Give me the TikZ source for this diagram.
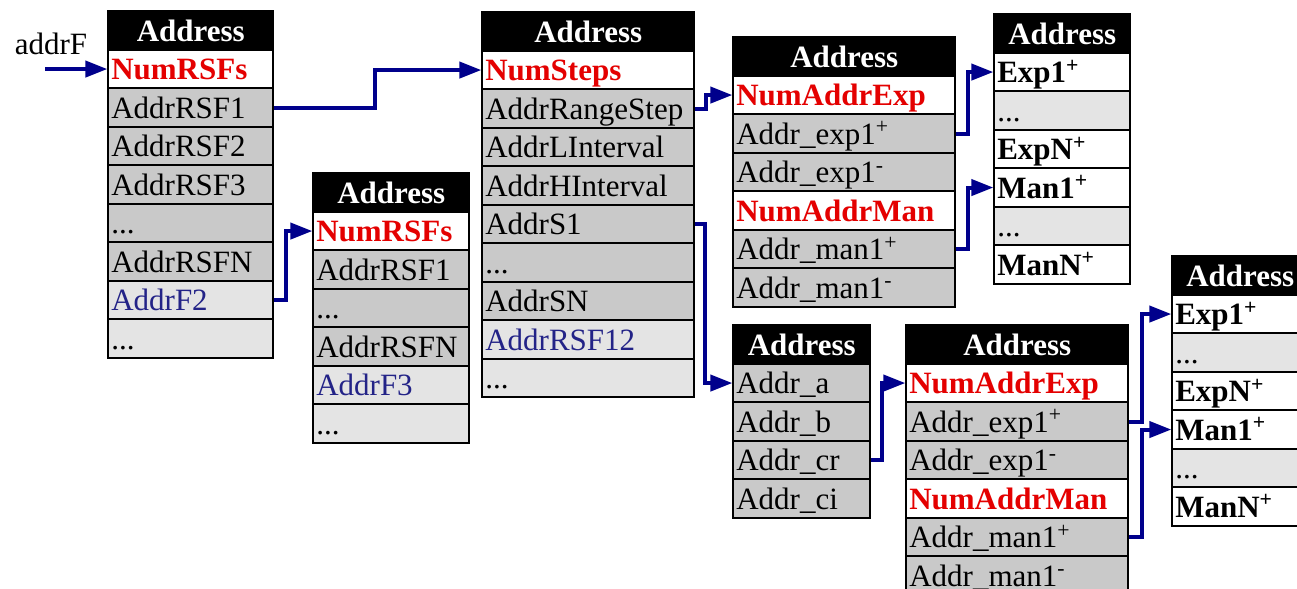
\documentclass[tikz,border=0pt]{standalone}
\usepackage{fontspec}
\setmainfont{Liberation Serif}
\usetikzlibrary{matrix}
\usetikzlibrary{arrows.meta}
\definecolor{cellgray}{RGB}{201,201,201}
\definecolor{lightrow}{RGB}{228,228,228}
\definecolor{numred}{RGB}{228,0,0}
\definecolor{linkblue}{RGB}{0,0,140}
\definecolor{ptrblue}{RGB}{35,35,135}
\newcommand{\rowFont}{\fontsize{15.5pt}{18pt}\selectfont}

\tikzset{
  cell/.style={draw=black, line width=0.9pt, fill=cellgray, font=\rowFont,
    inner xsep=1.5pt, inner ysep=1.5pt, text height=13pt, text depth=2.5pt,
    minimum height=19.25pt, align=left},
  hd/.style={fill=black, text=white, font=\rowFont\bfseries, align=center},
  nm/.style={fill=white, text=numred, font=\rowFont\bfseries},
  lt/.style={fill=lightrow},
  ptr/.style={fill=lightrow, text=ptrblue},
  ex/.style={fill=white, font=\rowFont\bfseries},
  addrtab/.style={matrix of nodes, anchor=north west, inner sep=0pt,
    row sep=-0.9pt, nodes={cell}},
  link/.style={draw=linkblue, line width=2pt, -{Triangle[length=11pt,width=8pt]}}
}

\begin{document}
\begin{tikzpicture}[x=0.5pt,y=-0.5pt]
\useasboundingbox (0,0) rectangle (1297,589);
\clip (0,0) rectangle (1297,589);

\node[font=\rowFont] (addrF) at (51,44) {addrF};

\matrix (t1) [addrtab, nodes={text width=79.5pt}] at (107,10) {
|[hd]| Address \\
|[nm]| NumRSFs \\
AddrRSF1 \\
AddrRSF2 \\
AddrRSF3 \\
... \\
AddrRSFN \\
|[ptr]| AddrF2 \\
|[lt]| ... \\
};

\matrix (t2) [addrtab, nodes={text width=75pt}] at (312,172) {
|[hd]| Address \\
|[nm]| NumRSFs \\
AddrRSF1 \\
... \\
AddrRSFN \\
|[ptr]| AddrF3 \\
|[lt]| ... \\
};

\matrix (t3) [addrtab, nodes={text width=103pt}] at (481,11) {
|[hd]| Address \\
|[nm]| NumSteps \\
AddrRangeStep \\
AddrLInterval \\
AddrHInterval \\
AddrS1 \\
... \\
AddrSN \\
|[ptr]| AddrRSF12 \\
|[lt]| ... \\
};

\matrix (t4) [addrtab, nodes={text width=108pt}] at (732,36) {
|[hd]| Address \\
|[nm]| NumAddrExp \\
Addr\_exp1\textsuperscript{+} \\
Addr\_exp1\textsuperscript{-} \\
|[nm]| NumAddrMan \\
Addr\_man1\textsuperscript{+} \\
Addr\_man1\textsuperscript{-} \\
};

\matrix (t5) [addrtab, nodes={text width=65.5pt}] at (732,324) {
|[hd]| Address \\
Addr\_a \\
Addr\_b \\
Addr\_cr \\
Addr\_ci \\
};

\matrix (t6) [addrtab, nodes={text width=108pt}] at (905,324) {
|[hd]| Address \\
|[nm]| NumAddrExp \\
Addr\_exp1\textsuperscript{+} \\
Addr\_exp1\textsuperscript{-} \\
|[nm]| NumAddrMan \\
Addr\_man1\textsuperscript{+} \\
Addr\_man1\textsuperscript{-} \\
};

\matrix (t7) [addrtab, nodes={text width=65pt}] at (993,13) {
|[hd]| Address \\
|[ex]| Exp1\textsuperscript{+} \\
|[lt]| ... \\
|[ex]| ExpN\textsuperscript{+} \\
|[ex]| Man1\textsuperscript{+} \\
|[lt]| ... \\
|[ex]| ManN\textsuperscript{+} \\
};

\matrix (t8) [addrtab, nodes={text width=65pt}] at (1171,255) {
|[hd]| Address \\
|[ex]| Exp1\textsuperscript{+} \\
|[lt]| ... \\
|[ex]| ExpN\textsuperscript{+} \\
|[ex]| Man1\textsuperscript{+} \\
|[lt]| ... \\
|[ex]| ManN\textsuperscript{+} \\
};

% pointers
\coordinate (in) at ([xshift=-31pt]t1-2-1.west);
\draw[link] (in) -- (t1-2-1.west);
\foreach \from/\to/\dx in {t1-3-1/t3-2-1/101, t1-8-1/t2-2-1/12,
    t3-3-1/t4-2-1/11, t3-6-1/t5-2-1/10, t4-3-1/t7-2-1/12, t4-6-1/t7-5-1/12,
    t5-4-1/t6-2-1/11, t6-3-1/t8-2-1/13, t6-6-1/t8-5-1/13}
  \draw[link] (\from.east) -- ++(\dx,0) |- (\to.west);
\end{tikzpicture}
\end{document}
